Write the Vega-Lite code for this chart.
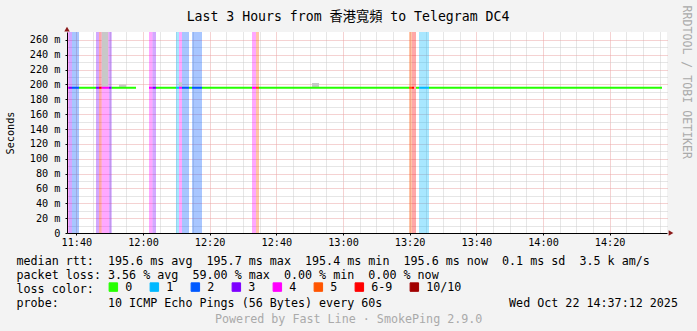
{
  "$schema": "https://vega.github.io/schema/vega-lite/v6.json",
  "width": 600,
  "height": 201,
  "autosize": {"type": "none"},
  "padding": {"left": 67, "top": 32, "right": 30, "bottom": 98},
  "background": "#f3f3f3",
  "config": {
    "view": {"fill": "white", "stroke": null},
    "font": "DejaVu Sans Mono",
    "axis": {
      "labelFont": "DejaVu Sans Mono",
      "titleFont": "DejaVu Sans Mono",
      "labelFontSize": 10.2,
      "labelColor": "#000000",
      "tickColor": "#000000",
      "domainColor": "#000000",
      "titleFontWeight": "normal",
      "titleColor": "#000000",
      "titleLimit": 1000
    }
  },
  "title": {
    "text": "Powered by Fast Line · SmokePing 2.9.0",
    "orient": "bottom",
    "anchor": "start",
    "frame": "group",
    "dx": 148,
    "offset": 5,
    "baseline": "top",
    "font": "DejaVu Sans Mono",
    "fontSize": 11.7,
    "fontWeight": "normal",
    "color": "#aaaaaa"
  },
  "datasets": {
    "bands": [
      {"start": "2025-10-22T11:37:12", "end": "2025-10-22T11:37:48", "loss": "4"},
      {"start": "2025-10-22T11:37:48", "end": "2025-10-22T11:38:42", "loss": "3"},
      {"start": "2025-10-22T11:38:42", "end": "2025-10-22T11:40:48", "loss": "2"},
      {"start": "2025-10-22T11:45:54", "end": "2025-10-22T11:46:48", "loss": "3"},
      {"start": "2025-10-22T11:46:48", "end": "2025-10-22T11:47:37", "loss": "6-9"},
      {"start": "2025-10-22T11:47:37", "end": "2025-10-22T11:49:48", "loss": "4"},
      {"start": "2025-10-22T11:49:48", "end": "2025-10-22T11:50:37", "loss": "3"},
      {"start": "2025-10-22T12:01:48", "end": "2025-10-22T12:02:51", "loss": "4"},
      {"start": "2025-10-22T12:02:51", "end": "2025-10-22T12:03:54", "loss": "3"},
      {"start": "2025-10-22T12:09:54", "end": "2025-10-22T12:10:48", "loss": "1"},
      {"start": "2025-10-22T12:10:48", "end": "2025-10-22T12:11:42", "loss": "4"},
      {"start": "2025-10-22T12:11:42", "end": "2025-10-22T12:13:48", "loss": "2"},
      {"start": "2025-10-22T12:14:42", "end": "2025-10-22T12:17:42", "loss": "2"},
      {"start": "2025-10-22T12:32:42", "end": "2025-10-22T12:33:54", "loss": "4"},
      {"start": "2025-10-22T12:33:54", "end": "2025-10-22T12:34:48", "loss": "5"},
      {"start": "2025-10-22T13:19:48", "end": "2025-10-22T13:20:42", "loss": "5"},
      {"start": "2025-10-22T13:20:42", "end": "2025-10-22T13:21:54", "loss": "6-9"},
      {"start": "2025-10-22T13:22:48", "end": "2025-10-22T13:25:48", "loss": "1"}
    ],
    "smoke": [
      {"start": "2025-10-22T11:47:37", "end": "2025-10-22T11:49:36", "lo": 197, "hi": 270.7},
      {"start": "2025-10-22T11:52:48", "end": "2025-10-22T11:54:54", "lo": 196, "hi": 200},
      {"start": "2025-10-22T12:10:48", "end": "2025-10-22T12:11:42", "lo": 196, "hi": 203},
      {"start": "2025-10-22T12:50:42", "end": "2025-10-22T12:52:48", "lo": 196, "hi": 202}
    ],
    "median": [
      {"start": "2025-10-22T11:37:12", "end": "2025-10-22T11:37:48", "rtt": 195.6, "loss": "4"},
      {"start": "2025-10-22T11:37:48", "end": "2025-10-22T11:38:42", "rtt": 195.6, "loss": "3"},
      {"start": "2025-10-22T11:38:42", "end": "2025-10-22T11:40:48", "rtt": 195.6, "loss": "2"},
      {"start": "2025-10-22T11:40:48", "end": "2025-10-22T11:45:54", "rtt": 195.6, "loss": "0"},
      {"start": "2025-10-22T11:45:54", "end": "2025-10-22T11:46:48", "rtt": 195.6, "loss": "3"},
      {"start": "2025-10-22T11:46:48", "end": "2025-10-22T11:47:37", "rtt": 195.6, "loss": "6-9"},
      {"start": "2025-10-22T11:47:37", "end": "2025-10-22T11:49:48", "rtt": 195.6, "loss": "4"},
      {"start": "2025-10-22T11:49:48", "end": "2025-10-22T11:50:37", "rtt": 195.6, "loss": "3"},
      {"start": "2025-10-22T11:50:37", "end": "2025-10-22T11:57:54", "rtt": 195.6, "loss": "0"},
      {"start": "2025-10-22T12:01:48", "end": "2025-10-22T12:02:51", "rtt": 195.6, "loss": "4"},
      {"start": "2025-10-22T12:02:51", "end": "2025-10-22T12:03:54", "rtt": 195.6, "loss": "3"},
      {"start": "2025-10-22T12:03:54", "end": "2025-10-22T12:09:54", "rtt": 195.6, "loss": "0"},
      {"start": "2025-10-22T12:09:54", "end": "2025-10-22T12:10:48", "rtt": 195.6, "loss": "1"},
      {"start": "2025-10-22T12:10:48", "end": "2025-10-22T12:11:42", "rtt": 195.6, "loss": "4"},
      {"start": "2025-10-22T12:11:42", "end": "2025-10-22T12:13:48", "rtt": 195.6, "loss": "2"},
      {"start": "2025-10-22T12:13:48", "end": "2025-10-22T12:14:42", "rtt": 195.6, "loss": "0"},
      {"start": "2025-10-22T12:14:42", "end": "2025-10-22T12:17:42", "rtt": 195.6, "loss": "2"},
      {"start": "2025-10-22T12:17:42", "end": "2025-10-22T12:32:42", "rtt": 195.6, "loss": "0"},
      {"start": "2025-10-22T12:32:42", "end": "2025-10-22T12:33:54", "rtt": 195.6, "loss": "4"},
      {"start": "2025-10-22T12:33:54", "end": "2025-10-22T12:34:48", "rtt": 195.6, "loss": "5"},
      {"start": "2025-10-22T12:34:48", "end": "2025-10-22T13:19:48", "rtt": 195.6, "loss": "0"},
      {"start": "2025-10-22T13:19:48", "end": "2025-10-22T13:20:42", "rtt": 195.6, "loss": "5"},
      {"start": "2025-10-22T13:20:42", "end": "2025-10-22T13:21:18", "rtt": 195.6, "loss": "6-9"},
      {"start": "2025-10-22T13:21:54", "end": "2025-10-22T13:22:48", "rtt": 195.6, "loss": "0"},
      {"start": "2025-10-22T13:22:48", "end": "2025-10-22T13:25:48", "rtt": 195.6, "loss": "1"},
      {"start": "2025-10-22T13:25:48", "end": "2025-10-22T14:35:42", "rtt": 195.6, "loss": "0"}
    ],
    "arrowUp": [{"t": "2025-10-22T11:37:12", "v": 274.7}],
    "arrowRight": [{"t": "2025-10-22T14:38:24", "v": 0}]
  },
  "layer": [
    {
      "layer": [
        {
          "data": {"name": "bands"},
          "mark": {"type": "rect", "opacity": 0.34},
          "encoding": {
            "x": {
              "field": "start", "type": "temporal",
              "scale": {"domain": [
                {"year": 2025, "month": 10, "date": 22, "hours": 11, "minutes": 37, "seconds": 12},
                {"year": 2025, "month": 10, "date": 22, "hours": 14, "minutes": 37, "seconds": 12}
              ]},
              "axis": {
                "orient": "bottom",
                "zindex": 1,
                "grid": false,
                "domain": true,
                "tickCount": 100,
                "values": [
                  {"year": 2025, "month": 10, "date": 22, "hours": 11, "minutes": 40},
                  {"year": 2025, "month": 10, "date": 22, "hours": 12, "minutes": 0},
                  {"year": 2025, "month": 10, "date": 22, "hours": 12, "minutes": 20},
                  {"year": 2025, "month": 10, "date": 22, "hours": 12, "minutes": 40},
                  {"year": 2025, "month": 10, "date": 22, "hours": 13, "minutes": 0},
                  {"year": 2025, "month": 10, "date": 22, "hours": 13, "minutes": 20},
                  {"year": 2025, "month": 10, "date": 22, "hours": 13, "minutes": 40},
                  {"year": 2025, "month": 10, "date": 22, "hours": 14, "minutes": 0},
                  {"year": 2025, "month": 10, "date": 22, "hours": 14, "minutes": 20}
                ],
                "format": "%H:%M",
                "labelOverlap": false,
                "labelFlush": false,
                "tickSize": 2,
                "labelPadding": 2,
                "title": [
                  "median rtt:\u00a0\u00a0195.6 ms avg\u00a0\u00a0195.7 ms max\u00a0\u00a0195.4 ms min\u00a0\u00a0195.6 ms now\u00a0\u00a00.1 ms sd\u00a0\u00a03.5 k am/s",
                  "packet loss: 3.56 % avg\u00a0\u00a059.00 % max\u00a0\u00a00.00 % min\u00a0\u00a00.00 % now",
                  "loss color:",
                  "probe:\u00a0\u00a0\u00a0\u00a0\u00a0\u00a0\u00a010 ICMP Echo Pings (56 Bytes) every 60s\u00a0\u00a0\u00a0\u00a0\u00a0\u00a0\u00a0\u00a0\u00a0\u00a0\u00a0\u00a0\u00a0\u00a0\u00a0\u00a0\u00a0\u00a0Wed Oct 22 14:37:12 2025"
                ],
                "titleX": -51,
                "titleY": 22,
                "titleAlign": "left",
                "titleBaseline": "top",
                "titleFontSize": 11.7,
                "titleLineHeight": 14
              }
            },
            "x2": {"field": "end"},
            "color": {
              "field": "loss", "type": "nominal",
              "scale": {
                "domain": ["0", "1", "2", "3", "4", "5", "6-9", "10/10"],
                "range": ["#26ff00", "#00b8ff", "#0059ff", "#7e00ff", "#ff00fe", "#ff5500", "#ff0000", "#a10000"]
              },
              "legend": {
                "orient": "none",
                "legendX": 40.5,
                "legendY": 249,
                "direction": "horizontal",
                "title": null,
                "labelFont": "DejaVu Sans Mono",
                "labelFontSize": 11.7,
                "labelColor": "#000000",
                "labelOffset": 6,
                "columnPadding": 15,
                "symbolType": "square",
                "symbolSize": 72,
                "symbolStrokeColor": "#000000",
                "symbolStrokeWidth": 1,
                "symbolOpacity": 1,
                "padding": 0
              }
            }
          }
        },
        {
          "data": {"name": "smoke"},
          "mark": {"type": "rect", "color": "#c8c8c8"},
          "encoding": {
            "x": {"field": "start", "type": "temporal"},
            "x2": {"field": "end"},
            "y": {
              "field": "lo", "type": "quantitative",
              "scale": {"domain": [0, 270.7], "nice": false},
              "axis": {
                "orient": "left",
                "zindex": 1,
                "grid": false,
                "domain": true,
                "tickCount": 100,
                "values": [0, 20, 40, 60, 80, 100, 120, 140, 160, 180, 200, 220, 240, 260],
                "labelExpr": "datum.value === 0 ? '0' : datum.value + ' m'",
                "labelOverlap": false,
                "labelFlush": false,
                "tickSize": 2,
                "labelPadding": 5,
                "title": "Seconds",
                "titleX": -56.5,
                "titleY": 100.5,
                "titleAlign": "center",
                "titleBaseline": "middle",
                "titleFontSize": 10.2
              }
            },
            "y2": {"field": "hi"}
          }
        },
        {
          "data": {"name": "median"},
          "mark": {"type": "rule", "strokeWidth": 2},
          "encoding": {
            "x": {"field": "start", "type": "temporal"},
            "x2": {"field": "end"},
            "y": {"field": "rtt", "type": "quantitative"},
            "color": {"field": "loss", "type": "nominal", "legend": null}
          }
        },
        {
          "data": {"name": "arrowRight"},
          "mark": {"type": "point", "shape": "triangle-right", "filled": true, "size": 30, "color": "#8b1a1a", "opacity": 1},
          "encoding": {
            "x": {"field": "t", "type": "temporal"},
            "y": {"field": "v", "type": "quantitative"}
          }
        }
      ]
    },
    {
      "data": {"name": "arrowUp"},
      "mark": {"type": "point", "shape": "triangle-up", "filled": true, "size": 30, "color": "#8b1a1a", "opacity": 1},
      "encoding": {
        "x": {
          "field": "t", "type": "temporal",
          "axis": {
            "orient": "top",
            "zindex": 0,
            "grid": true,
            "gridDash": [1, 1],
            "gridColor": {"condition": {"test": "minutes(datum.value) % 20 === 0", "value": "#eba5a5"}, "value": "#cccccc"},
            "tickCount": 100,
            "values": [
              {"year": 2025, "month": 10, "date": 22, "hours": 11, "minutes": 40},
              {"year": 2025, "month": 10, "date": 22, "hours": 11, "minutes": 45},
              {"year": 2025, "month": 10, "date": 22, "hours": 11, "minutes": 50},
              {"year": 2025, "month": 10, "date": 22, "hours": 11, "minutes": 55},
              {"year": 2025, "month": 10, "date": 22, "hours": 12, "minutes": 0},
              {"year": 2025, "month": 10, "date": 22, "hours": 12, "minutes": 5},
              {"year": 2025, "month": 10, "date": 22, "hours": 12, "minutes": 10},
              {"year": 2025, "month": 10, "date": 22, "hours": 12, "minutes": 15},
              {"year": 2025, "month": 10, "date": 22, "hours": 12, "minutes": 20},
              {"year": 2025, "month": 10, "date": 22, "hours": 12, "minutes": 25},
              {"year": 2025, "month": 10, "date": 22, "hours": 12, "minutes": 30},
              {"year": 2025, "month": 10, "date": 22, "hours": 12, "minutes": 35},
              {"year": 2025, "month": 10, "date": 22, "hours": 12, "minutes": 40},
              {"year": 2025, "month": 10, "date": 22, "hours": 12, "minutes": 45},
              {"year": 2025, "month": 10, "date": 22, "hours": 12, "minutes": 50},
              {"year": 2025, "month": 10, "date": 22, "hours": 12, "minutes": 55},
              {"year": 2025, "month": 10, "date": 22, "hours": 13, "minutes": 0},
              {"year": 2025, "month": 10, "date": 22, "hours": 13, "minutes": 5},
              {"year": 2025, "month": 10, "date": 22, "hours": 13, "minutes": 10},
              {"year": 2025, "month": 10, "date": 22, "hours": 13, "minutes": 15},
              {"year": 2025, "month": 10, "date": 22, "hours": 13, "minutes": 20},
              {"year": 2025, "month": 10, "date": 22, "hours": 13, "minutes": 25},
              {"year": 2025, "month": 10, "date": 22, "hours": 13, "minutes": 30},
              {"year": 2025, "month": 10, "date": 22, "hours": 13, "minutes": 35},
              {"year": 2025, "month": 10, "date": 22, "hours": 13, "minutes": 40},
              {"year": 2025, "month": 10, "date": 22, "hours": 13, "minutes": 45},
              {"year": 2025, "month": 10, "date": 22, "hours": 13, "minutes": 50},
              {"year": 2025, "month": 10, "date": 22, "hours": 13, "minutes": 55},
              {"year": 2025, "month": 10, "date": 22, "hours": 14, "minutes": 0},
              {"year": 2025, "month": 10, "date": 22, "hours": 14, "minutes": 5},
              {"year": 2025, "month": 10, "date": 22, "hours": 14, "minutes": 10},
              {"year": 2025, "month": 10, "date": 22, "hours": 14, "minutes": 15},
              {"year": 2025, "month": 10, "date": 22, "hours": 14, "minutes": 20},
              {"year": 2025, "month": 10, "date": 22, "hours": 14, "minutes": 25},
              {"year": 2025, "month": 10, "date": 22, "hours": 14, "minutes": 30},
              {"year": 2025, "month": 10, "date": 22, "hours": 14, "minutes": 35}
            ],
            "labels": false,
            "ticks": false,
            "domain": false,
            "title": "Last 3 Hours from 香港寬頻 to Telegram DC4",
            "titleFont": "DejaVu Sans Mono, Noto Sans CJK TC",
            "titleFontSize": 13.2,
            "titleX": 280.5,
            "titleY": -12,
            "titleAlign": "center",
            "titleBaseline": "alphabetic"
          }
        },
        "y": {
          "field": "v", "type": "quantitative",
          "axis": {
            "orient": "right",
            "zindex": 0,
            "grid": true,
            "gridDash": [1, 1],
            "gridColor": {"condition": {"test": "datum.value % 20 === 0", "value": "#eba5a5"}, "value": "#cccccc"},
            "tickCount": 100,
            "values": [10, 20, 30, 40, 50, 60, 70, 80, 90, 100, 110, 120, 130, 140, 150, 160, 170, 180, 190, 200, 210, 220, 230, 240, 250, 260],
            "labels": false,
            "ticks": false,
            "domain": false,
            "title": "RRDTOOL / TOBI OETIKER",
            "titleColor": "#aaaaaa",
            "titleFontSize": 11.6,
            "titleAngle": 90,
            "titleX": 18,
            "titleY": -27,
            "titleAlign": "left",
            "titleBaseline": "middle"
          }
        }
      }
    }
  ],
  "resolve": {"axis": {"x": "independent", "y": "independent"}}
}
